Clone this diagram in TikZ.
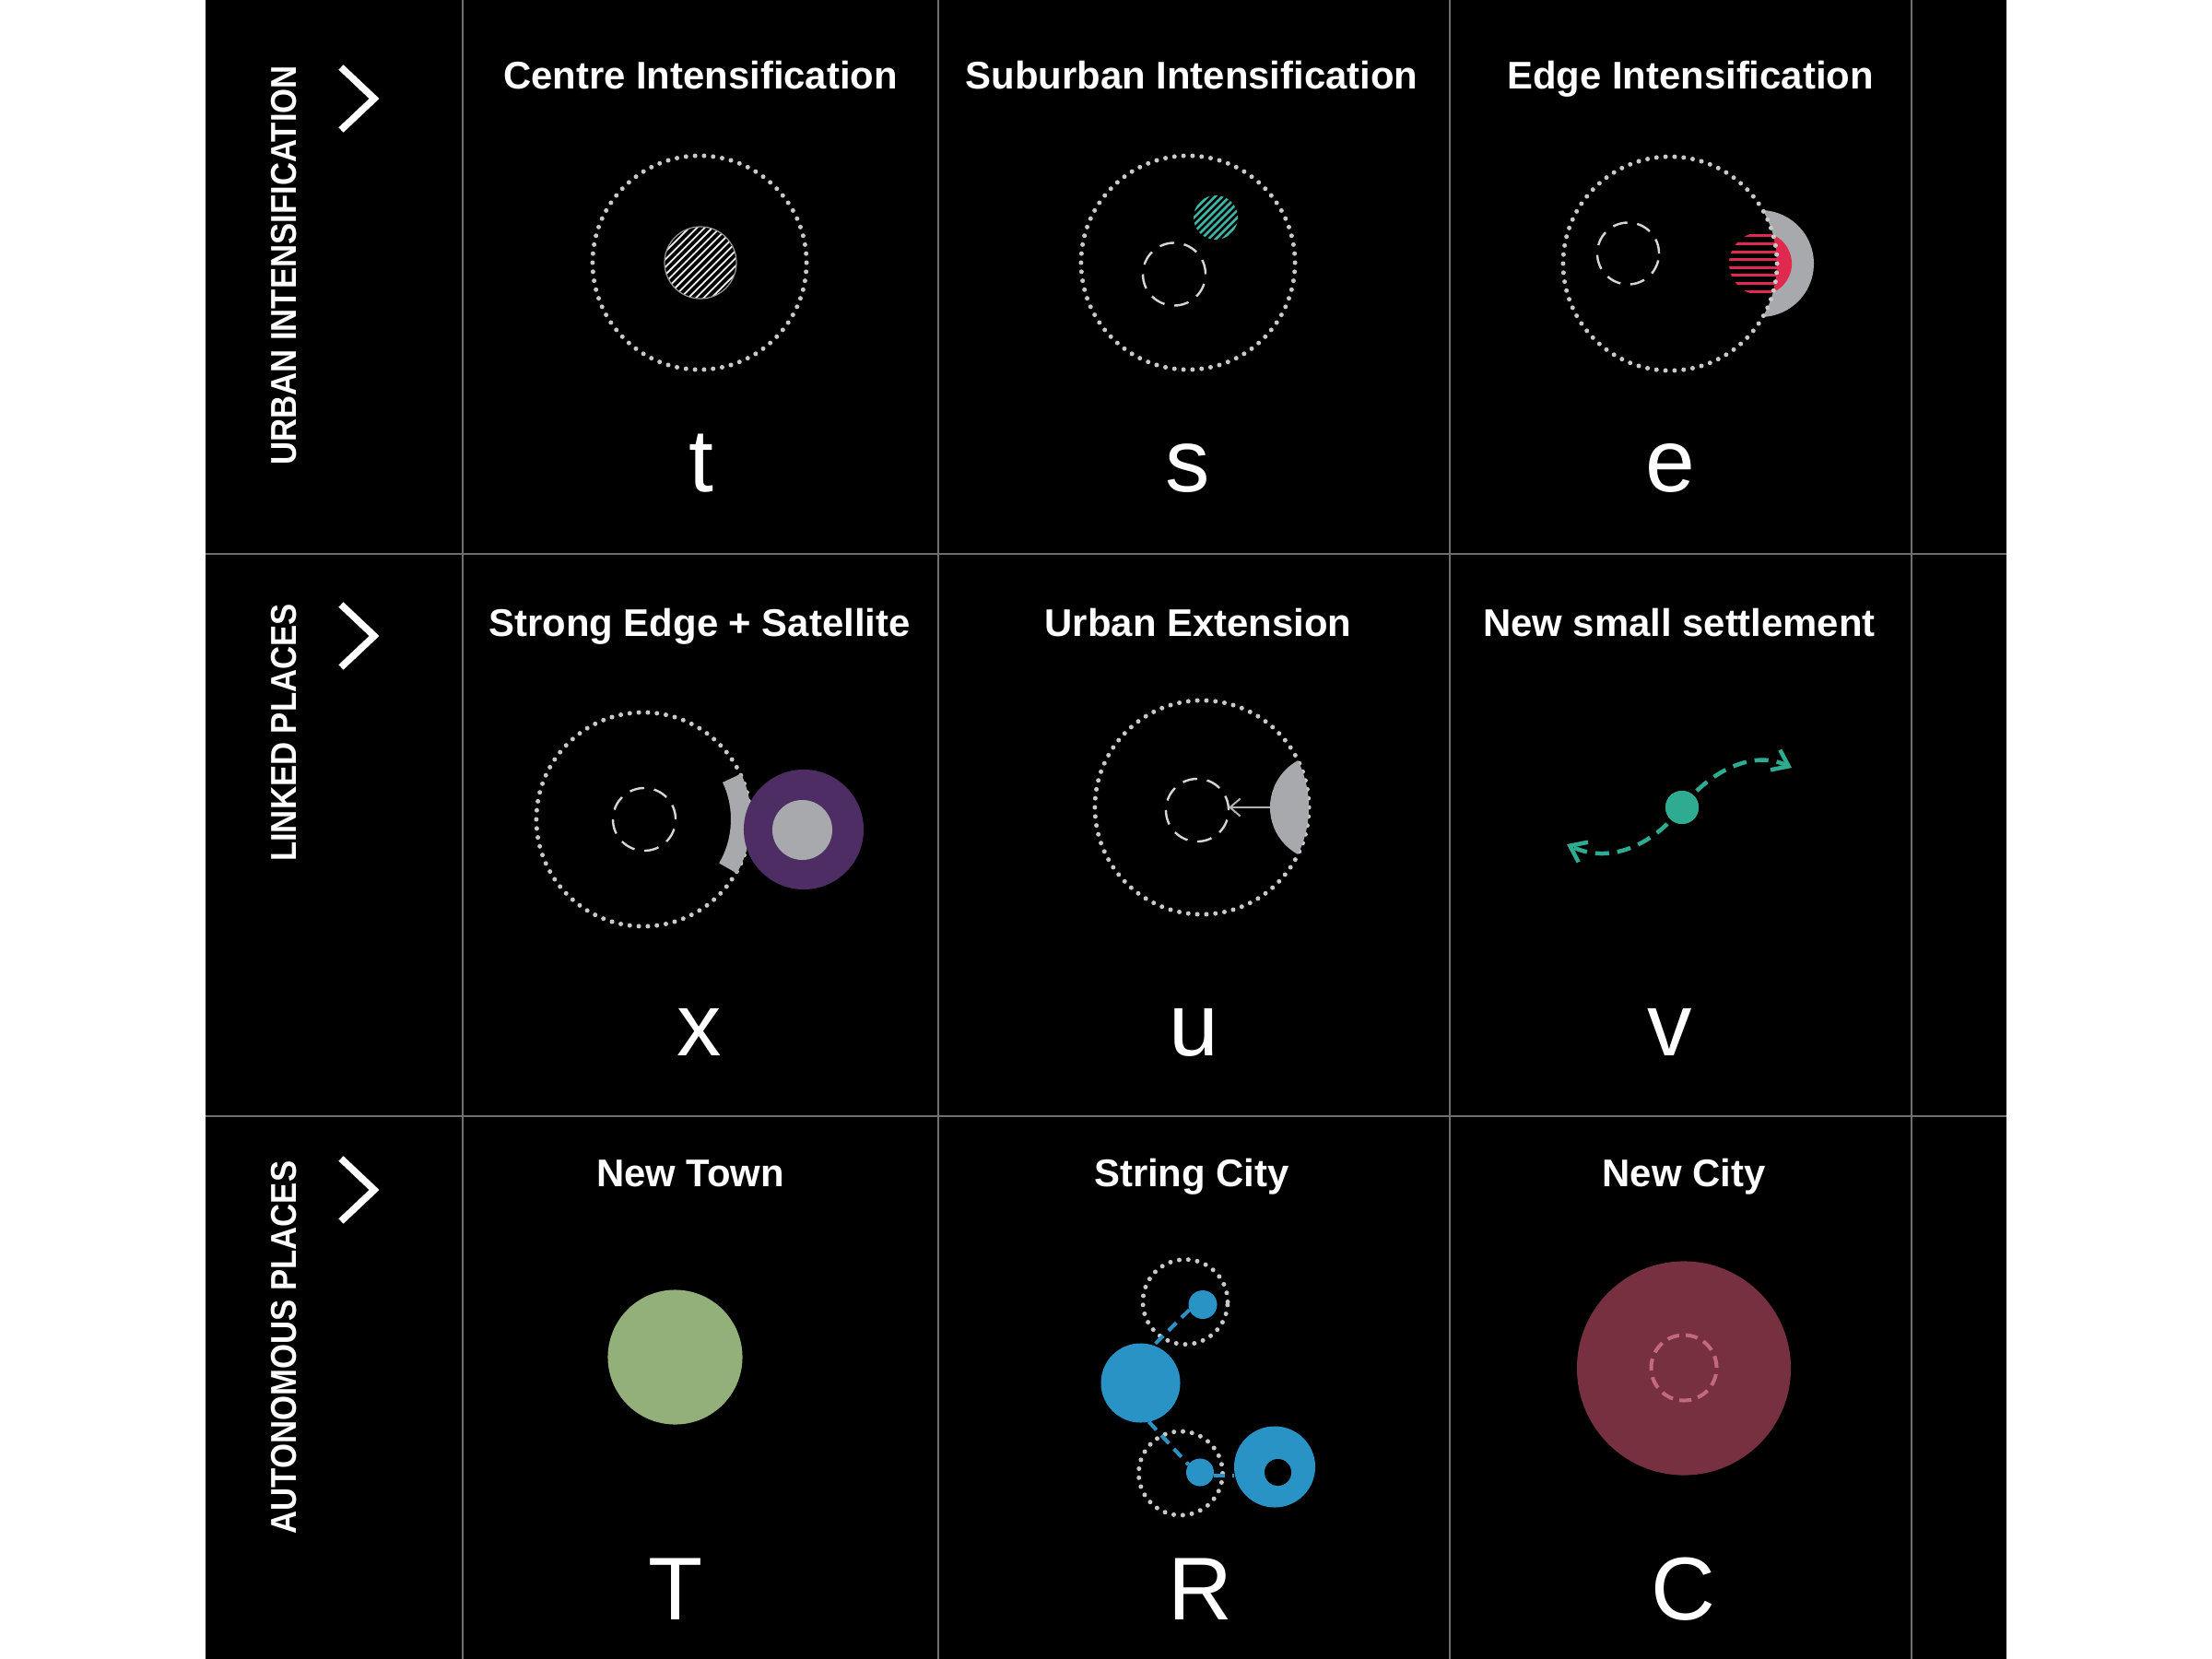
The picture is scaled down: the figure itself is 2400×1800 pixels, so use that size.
\documentclass[tikz,border=0pt]{standalone}
\usepackage{fontspec}
\usepackage{graphicx}
\setmainfont{Liberation Sans}
\usetikzlibrary{arrows.meta,calc}
\definecolor{gridc}{HTML}{6E6E6E}
\definecolor{dotc}{HTML}{C9C9C9}
\definecolor{dashc}{HTML}{D6D6D6}
\definecolor{grayf}{HTML}{A8A9AC}
\definecolor{tealh}{HTML}{3BB5A6}
\definecolor{teals}{HTML}{2EAB91}
\definecolor{redc}{HTML}{E0294F}
\definecolor{purp}{HTML}{4D2D64}
\definecolor{greenc}{HTML}{93B07A}
\definecolor{bluec}{HTML}{2A93C5}
\definecolor{winec}{HTML}{763040}
\definecolor{pinkd}{HTML}{C26A7C}
\begin{document}
\begin{tikzpicture}[x=0.01cm,y=-0.01cm,
  head/.style={text=white,font=\bfseries\fontsize{11.9}{14}\selectfont,anchor=base,inner sep=0pt},
  lett/.style={text=white,font=\fontsize{27.5}{33}\selectfont,anchor=base,inner sep=0pt},
  rowlab/.style={text=white,font=\bfseries\fontsize{11.1}{13}\selectfont,rotate=90,anchor=base,inner sep=0pt},
  chev/.style={draw=white,line width=0.075cm,line join=miter},
  gridl/.style={draw=gridc,line width=0.015cm},
  disc/.style={circle,inner sep=0pt,outer sep=0pt},
  dotring/.style={draw=dotc,line width=0.05cm,line cap=round,dash pattern=on 0pt off 0.0985cm},
  dashring/.style={draw=dashc,line width=0.024cm,dash pattern=on 0.16cm off 0.107cm},
  hatchw/.style={draw=white!90!gray,line width=0.018cm},
  hatcht/.style={draw=tealh,line width=0.026cm},
  hatchr/.style={draw=redc,line width=0.028cm},
  tealdash/.style={draw=teals,line width=0.045cm,dash pattern=on 0.15cm off 0.09cm,-{Straight Barb[length=0.16cm,width=0.24cm,line width=0.045cm]}},
  bluedash/.style={draw=bluec,line width=0.04cm,dash pattern=on 0.12cm off 0.08cm},
  pinkring/.style={draw=pinkd,line width=0.04cm,dash pattern=on 0.13cm off 0.073cm}
]
\useasboundingbox (0,0) rectangle (2400,1800);
\fill[white] (0,0) rectangle (2400,1800);
\fill[black] (223,0) rectangle (2177,1800);

% grid
\foreach \xx in {502,1018,1573,2074} \draw[gridl] (\xx,0) -- (\xx,1800);
\foreach \yy in {601,1211} \draw[gridl] (223,\yy) -- (2177,\yy);

% row labels and chevrons
\node[rowlab] (lab1) at (321,288) {\scalebox{0.89}[1]{URBAN INTENSIFICATION}};
\node[rowlab] (lab2) at (321,795) {\scalebox{0.89}[1]{LINKED PLACES}};
\node[rowlab] (lab3) at (321,1462) {\scalebox{0.89}[1]{AUTONOMOUS PLACES}};
\draw[chev] (370,73) -- (406,107) -- (370,141);
\draw[chev] (370,656) -- (406,690) -- (370,724);
\draw[chev] (370,1257) -- (406,1291) -- (370,1325);

% headers
\node[head] (h1) at (760,97) {Centre Intensification};
\node[head] (h2) at (1293,97) {Suburban Intensification};
\node[head] (h3) at (1834,97) {Edge Intensification};
\node[head] (h4) at (759,690) {Strong Edge + Satellite};
\node[head] (h5) at (1300,690) {Urban Extension};
\node[head] (h6) at (1822,690) {New small settlement};
\node[head] (h7) at (749,1287) {New Town};
\node[head] (h8) at (1293,1287) {String City};
\node[head] (h9) at (1827,1287) {New City};

% letters
\node[lett] (lt) at (761,533) {t};
\node[lett] (ls) at (1289,533) {s};
\node[lett] (le) at (1812,533) {e};
\node[lett] (lx) at (759,1145) {x};
\node[lett] (lu) at (1295,1145) {u};
\node[lett] (lv) at (1812,1145) {v};
\node[lett] (lT) at (733,1757) {T};
\node[lett] (lR) at (1302,1757) {R};
\node[lett] (lC) at (1826,1757) {C};

% ---- cell 1: centre intensification
\node[disc,dotring,minimum size=2.32cm] (o1) at (759,285) {};
\begin{scope}
\clip (760,285) circle[radius=39];
\foreach \k in {-9,...,9}
  \draw[hatchw] ({760+\k*4.17-60},{285+\k*4.17+60}) -- ({760+\k*4.17+60},{285+\k*4.17-60});
\end{scope}
\node[disc,draw=gray!80,line width=0.012cm,minimum size=0.78cm] (c1) at (760,285) {};

% ---- cell 2: suburban intensification
\node[disc,dotring,minimum size=2.32cm] (o2) at (1289,285) {};
\node[disc,dashring,minimum size=0.68cm] (d2) at (1274,297.5) {};
\begin{scope}
\clip (1319,236) circle[radius=24];
\foreach \k in {-6,...,6}
  \draw[hatcht] ({1319+\k*3.9-40},{236+\k*3.9+40}) -- ({1319+\k*3.9+40},{236+\k*3.9-40});
\end{scope}

% ---- cell 3: edge intensification
\fill[grayf] ($(1910,286)+(-87.5:58)$) arc[start angle=-87.5,end angle=87.5,radius=58]
  arc[start angle=30,end angle=-30,radius=116] -- cycle;
\fill[redc] ($(1910,286)+(-66.1:34)$) arc[start angle=-66.1,end angle=66.1,radius=34]
  arc[start angle=15.55,end angle=-15.55,radius=116] -- cycle;
\begin{scope}
\clip (1812,286) circle[radius=116];
\clip (1910,286) circle[radius=34];
\foreach \yy in {-30.1,-21.5,-12.9,-4.3,4.3,12.9,21.5,30.1}
  \draw[hatchr] (1860,{286+\yy}) -- (1960,{286+\yy});
\end{scope}
\node[disc,dotring,minimum size=2.32cm] (o3) at (1812,286) {};
\node[disc,dashring,minimum size=0.67cm] (d3) at (1766.5,275) {};

% ---- cell 4: strong edge + satellite
\node[disc,dotring,minimum size=2.32cm] (o4) at (698,889) {};
\node[disc,dashring,minimum size=0.68cm] (d4) at (699,889) {};
\fill[grayf] ($(698,889)+(-25:117)$) arc[start angle=-25,end angle=30,radius=117]
  -- ($(698,889)+(30:95)$) arc[start angle=30,end angle=-25,radius=95] -- cycle;
\node[disc,fill=purp,minimum size=1.30cm] (sat) at (872,900) {};
\node[disc,fill=grayf,minimum size=0.65cm] (satc) at (870.5,900.5) {};

% ---- cell 5: urban extension
\node[disc,dotring,minimum size=2.32cm] (o5) at (1304,876) {};
\node[disc,dashring,minimum size=0.68cm] (d5) at (1299,879) {};
\fill[grayf] ($(1304,876)+(-26.08:116)$) arc[start angle=-26.08,end angle=26.08,radius=116]
  arc[start angle=118.6,end angle=241.4,radius=58] -- cycle;
\coordinate (lensL) at (1378,876);
\draw[draw=grayf!90!white,line width=0.02cm,-{Straight Barb[length=0.11cm,width=0.19cm,line width=0.02cm]}]
  (lensL) -- (lensL -| d5.east);

% ---- cell 6: new small settlement
\coordinate (ltip) at (1700,916);
\coordinate (rtip) at (1944,833);
\node[disc,fill=teals,minimum size=0.36cm] (v6) at (1825,876) {};
\draw[tealdash] (v6.center) .. controls (1852,840) and (1900,812) .. (rtip);
\draw[tealdash] (v6.center) .. controls (1798,912) and (1750,940) .. (ltip);
\node[disc,fill=teals,minimum size=0.36cm] (v6b) at (1825,876) {};

% ---- cell 7: new town
\node[disc,fill=greenc,minimum size=1.46cm] (town) at (732.5,1472.5) {};

% ---- cell 8: string city
\node[disc,dotring,minimum size=0.92cm] (tr8) at (1286,1412.5) {};
\node[disc,dotring,minimum size=0.91cm] (br8) at (1281,1598.5) {};
\node[disc,fill=bluec,minimum size=0.31cm] (td8) at (1305,1415.5) {};
\node[disc,fill=bluec,minimum size=0.86cm] (big8) at (1237.5,1500.5) {};
\node[disc,fill=bluec,minimum size=0.30cm] (bd8) at (1302,1597.5) {};
\node[disc,fill=bluec,minimum size=0.88cm] (ring8) at (1383,1591.5) {};
\node[disc,fill=black,minimum size=0.29cm] (hole8) at (1386.5,1597.5) {};
\draw[bluedash] (td8.201) -- (big8.71);
\draw[bluedash] (big8.-78) -- (bd8.146);
\draw[bluedash] (bd8.-15) -- (ring8.west |- bd8.-15);

% ---- cell 9: new city
\node[disc,fill=winec,minimum size=2.32cm] (city) at (1827,1484.5) {};
\node[disc,pinkring,minimum size=0.71cm] (cc) at (1827,1484) {};
\end{tikzpicture}
\end{document}
